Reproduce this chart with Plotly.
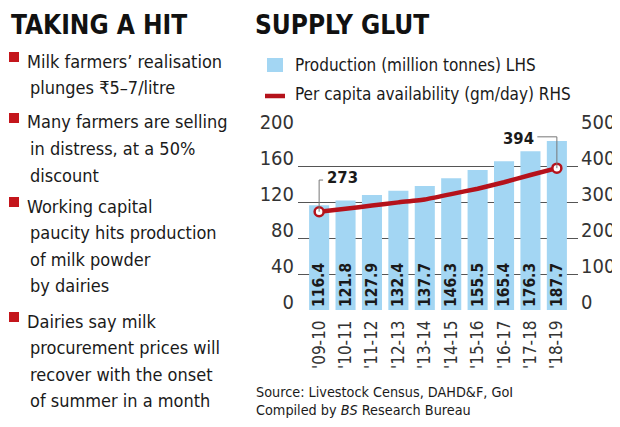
import plotly.graph_objects as go

years = ["'09-10", "'10-11", "'11-12", "'12-13", "'13-14", "'14-15", "'15-16", "'16-17", "'17-18", "'18-19"]
production = [116.4, 121.8, 127.9, 132.4, 137.7, 146.3, 155.5, 165.4, 176.3, 187.7]
per_capita = [273, 281, 290, 299, 307, 322, 337, 355, 375, 394]
left_ticks = [0, 40, 80, 120, 160, 200]
right_ticks = [0, 100, 200, 300, 400, 500]

bullets = [
    ["Milk farmers’ realisation", "plunges ₹5–7/litre"],
    ["Many farmers are selling", "in distress, at a 50%", "discount"],
    ["Working capital", "paucity hits production", "of milk powder", "by dairies"],
    ["Dairies say milk", "procurement prices will", "recover with the onset", "of summer in a month"],
]

FONT = "DejaVu Sans Condensed, Liberation Sans Narrow, sans-serif"
BAR_C = "#a3d6f3"
RED = "#b5121b"
W, H = 620, 427
OFF = 8  # page body margin
# plot area in reference pixels
PX0, PX1, PY0, PY1 = 298, 578, 130, 310
L, T = PX0 - OFF, PY0 - OFF
R, B = W - (PX1 - OFF), H - (PY1 - OFF)
PW, PH = PX1 - PX0, PY1 - PY0


def px(x):
    return (x - PX0) / PW


def py(y):
    return (PY1 - y) / PH


fig = go.Figure()
fig.add_trace(go.Bar(
    x=list(range(len(years))), y=production, marker_color=BAR_C, marker_line_width=0,
    text=[f"{v:.1f}" for v in production], textposition="inside", insidetextanchor="start",
    textangle=-90, constraintext="none",
    textfont=dict(family=FONT, size=15.5, color="#1a1a1a", weight="bold"),
    showlegend=False, hoverinfo="skip",
))
fig.add_trace(go.Scatter(
    x=list(range(len(years))), y=per_capita, yaxis="y2", mode="lines",
    line=dict(color=RED, width=4.5, shape="spline", smoothing=0.3), showlegend=False,
    hoverinfo="skip",
))
fig.add_trace(go.Scatter(
    x=[0, len(years) - 1], y=[per_capita[0], per_capita[-1]], yaxis="y2", mode="markers",
    marker=dict(size=9, color="white", line=dict(color=RED, width=2.5)), showlegend=False,
    cliponaxis=False, hoverinfo="skip",
))

fig.update_layout(
    width=W, height=H, margin=dict(l=L, r=R, t=T, b=B, pad=0, autoexpand=False),
    paper_bgcolor="white", plot_bgcolor="white", bargap=0.24, showlegend=False,
    font=dict(family=FONT, color="#333"),
    xaxis=dict(range=[-0.8, len(years) - 0.2], tickvals=list(range(len(years))), ticktext=years,
               tickangle=-90, tickfont=dict(size=17, color="#333"), showgrid=False,
               showline=False, zeroline=False, ticks="", ticklabelstandoff=6, automargin=False),
    yaxis=dict(range=[0, 200], tickvals=left_ticks, showgrid=True, gridcolor="#555", gridwidth=1,
               zeroline=False, showline=False, ticks="", ticklabelposition="outside",
               ticklabelshift=-8,
               tickfont=dict(size=20, color="#333"), ticklabelstandoff=3, automargin=False),
    yaxis2=dict(range=[0, 500], tickvals=right_ticks, overlaying="y", side="right", showgrid=False,
                zeroline=False, showline=False, ticks="", ticklabelposition="outside",
                ticklabelshift=-8,
                tickfont=dict(size=20, color="#333"), ticklabelstandoff=2, automargin=False),
)

shapes = []
ann = []
lead = dict(color="#777", width=1)
shapes.append(dict(type="path", xref="x", yref="y2",
                   path=f"M 0,{per_capita[0]} L 0,361 L 0.15,361", line=lead))
shapes.append(dict(type="path", xref="x", yref="y2",
                   path=f"M 9,{per_capita[-1]} L 9,481 L 8.26,481", line=lead))
ann.append(dict(x=0.22, y=369, xref="x", yref="y2", text=f"<b>{per_capita[0]}</b>", showarrow=False,
                xanchor="left", yanchor="middle", font=dict(size=16.5, color="#1a1a1a", family=FONT)))
ann.append(dict(x=8.22, y=476, xref="x", yref="y2", text=f"<b>{per_capita[-1]}</b>", showarrow=False,
                xanchor="right", yanchor="middle", font=dict(size=16.5, color="#1a1a1a", family=FONT)))

# headings (top-anchored at the top edge of the figure)
ann.append(dict(x=px(OFF + 1), y=py(OFF + 0.5), xref="paper", yref="paper", text="<b>TAKING A HIT</b>",
                showarrow=False, xanchor="left", yanchor="top",
                font=dict(size=26, color="#111", family=FONT)))
ann.append(dict(x=px(253), y=py(OFF + 0.5), xref="paper", yref="paper", text="<b>SUPPLY GLUT</b>",
                showarrow=False, xanchor="left", yanchor="top",
                font=dict(size=26, color="#111", family=FONT)))

# bullets
first_centers = [61, 122, 206, 321]
step = 26.5
for b, lines in enumerate(bullets):
    c0 = first_centers[b]
    shapes.append(dict(type="rect", xref="paper", yref="paper",
                       x0=px(9), x1=px(19), y0=py(c0 - 9), y1=py(c0 + 1),
                       fillcolor="#c4161c", line_width=0))
    for i, t in enumerate(lines):
        ann.append(dict(x=px(25 if i == 0 else 28), y=py(c0 + i * step), xref="paper", yref="paper",
                        text=t, showarrow=False, xanchor="left", yanchor="middle",
                        font=dict(size=18, color="#1a1a1a", family=FONT)))

# legend
shapes.append(dict(type="rect", xref="paper", yref="paper", x0=px(267), x1=px(283),
                   y0=py(72), y1=py(58), fillcolor=BAR_C, line_width=0))
shapes.append(dict(type="line", xref="paper", yref="paper", x0=px(265), x1=px(285),
                   y0=py(96), y1=py(96), line=dict(color=RED, width=4.5)))
ann.append(dict(x=px(293), y=py(65), xref="paper", yref="paper", text="Production (million tonnes) LHS",
                showarrow=False, xanchor="left", yanchor="middle",
                font=dict(size=17, color="#1a1a1a", family=FONT)))
ann.append(dict(x=px(293), y=py(94), xref="paper", yref="paper",
                text="Per capita availability (gm/day) RHS",
                showarrow=False, xanchor="left", yanchor="middle",
                font=dict(size=17, color="#1a1a1a", family=FONT)))

# source
ann.append(dict(x=px(254), y=py(392), xref="paper", yref="paper",
                text="Source: Livestock Census, DAHD&F, GoI", showarrow=False,
                xanchor="left", yanchor="middle", font=dict(size=14.3, color="#1a1a1a", family=FONT)))
ann.append(dict(x=px(254), y=py(410), xref="paper", yref="paper",
                text="Compiled by <i>BS</i> Research Bureau", showarrow=False,
                xanchor="left", yanchor="middle", font=dict(size=14.3, color="#1a1a1a", family=FONT)))

fig.update_layout(shapes=shapes, annotations=ann)
fig.write_html("out.html")
